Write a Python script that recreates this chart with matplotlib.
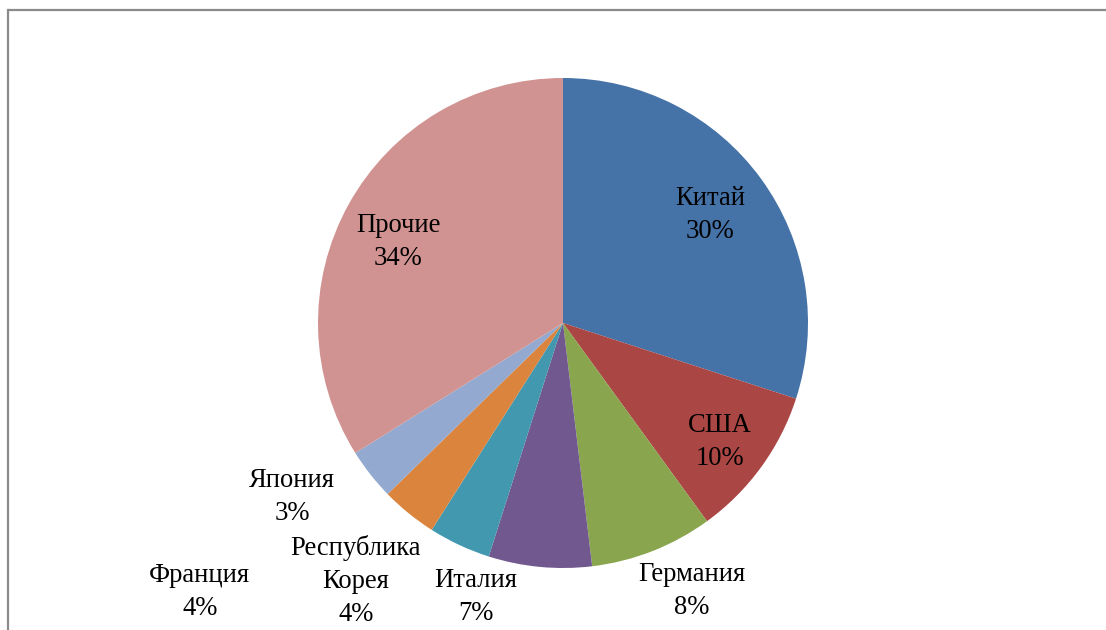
import matplotlib.pyplot as plt
from matplotlib.lines import Line2D

# Доли стран (в процентах), по часовой стрелке от верхней точки
countries = ['Китай', 'США', 'Германия', 'Италия', 'Республика\nКорея',
             'Франция', 'Япония', 'Прочие']
shares = [30.0, 10.0, 8.1, 6.8, 4.1, 3.7, 3.4, 33.9]
colors = ['#4572A7', '#AA4643', '#89A54E', '#71588F', '#4198AF',
          '#DB843D', '#93A9CF', '#D19392']

# Положение подписей (в единицах радиуса круга)
label_pos = [(0.600, 0.440), (0.641, -0.485), (0.527, -1.095), (-0.355, -1.120),
             (-0.845, -1.052), (-1.482, -1.097), (-1.106, -0.712), (-0.673, 0.330)]

plt.rcParams['font.family'] = ['Liberation Serif', 'DejaVu Serif']

fig = plt.figure(figsize=(11.06, 6.3), dpi=100)
ax = fig.add_axes([0, 0, 1, 1])

ax.pie(shares, colors=colors, startangle=90, counterclock=False,
       radius=1.0, center=(0, 0), wedgeprops=dict(linewidth=0))

total = sum(shares)
for name, val, (x, y) in zip(countries, shares, label_pos):
    ax.text(x, y, f"{name}\n{val / total * 100:.0f}%", ha='center', va='center',
            fontsize=19.2, color='black', linespacing=1.42)

# пиксели: центр (563, 323), радиус 245
ax.set_xlim(-563 / 245, (1106 - 563) / 245)
ax.set_ylim(-(630 - 323) / 245, 323 / 245)
ax.set_aspect('auto')
ax.axis('off')

# рамка области диаграммы (видны только верхняя и левая стороны)
x0, y0 = 8 / 1106, 1 - 10 / 630
fig.add_artist(Line2D([x0, 1.0], [y0, y0], transform=fig.transFigure,
                      color='#8a8a8a', linewidth=1.6, solid_capstyle='butt'))
fig.add_artist(Line2D([x0, x0], [0.0, y0], transform=fig.transFigure,
                      color='#8a8a8a', linewidth=1.6, solid_capstyle='projecting'))

fig.savefig('out.png', dpi=100)
